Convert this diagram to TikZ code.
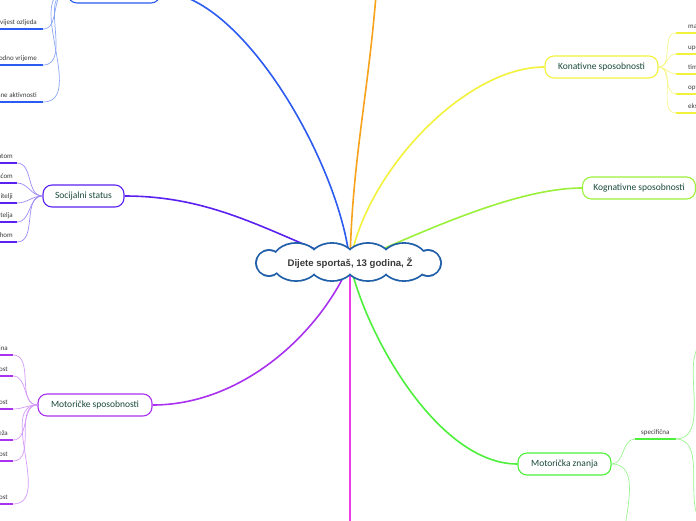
\documentclass[tikz,border=0pt]{standalone}
\usepackage{fontspec}
\setmainfont{Carlito}
\newfontfamily\rootfont{Liberation Sans}
\usepackage{xcolor}
\usepackage{tikz}
\usetikzlibrary{positioning,backgrounds}

\definecolor{blueM}{HTML}{2B5BF0}
\definecolor{blueL}{HTML}{8AA6F7}
\definecolor{indigoM}{HTML}{5B21F0}
\definecolor{indigoL}{HTML}{A08AF7}
\definecolor{purpleM}{HTML}{A931F0}
\definecolor{purpleL}{HTML}{D59AF7}
\definecolor{yellowM}{HTML}{F2F23C}
\definecolor{yellowL}{HTML}{F6F68A}
\definecolor{limeM}{HTML}{9BF03A}
\definecolor{greenM}{HTML}{4CF03A}
\definecolor{greenL}{HTML}{9AF590}
\definecolor{orangeM}{HTML}{F7A21B}
\definecolor{magentaM}{HTML}{F03CE8}
\definecolor{cloudC}{HTML}{1F5EA8}
\definecolor{topictext}{HTML}{1A4A3C}
\definecolor{leaftext}{HTML}{3A3A3A}

\tikzset{
  topic/.style={draw, rounded corners=9pt, line width=1.1pt, fill=white,
    minimum height=22pt, inner sep=0pt, text=topictext,
    font=\fontsize{9.5}{11}\selectfont},
  leaf/.style={inner xsep=5pt, inner ysep=2.5pt, text height=5pt, text depth=1.5pt,
    text=leaftext, font=\fontsize{7}{8}\selectfont},
  uline/.style={line width=2pt},
  twig/.style={line width=0.7pt},
  limb/.style={line width=1.6pt},
}

\begin{document}
\begin{tikzpicture}[x=1pt, y=-1pt]
\useasboundingbox (0,0) rectangle (696,520);
\clip (0,0) rectangle (696,520);

% cloud: outline of the union of puffs
\foreach \w/\d in {cloudC/0.9, white/-0.9}{
  \fill[\w] (269,263) circle (13+\d);
  \fill[\w] (428,263) circle (13+\d);
  \foreach \cx in {296,332,368,404}
    \fill[\w] (\cx,262) ellipse [x radius=24+\d, y radius=19+\d];
}
\node[text=leaftext, font=\rootfont\bfseries\fontsize{9.6}{11}\selectfont] (root) at (350,263)
      {Dijete sportaš, 13 godina, Ž};

\node[topic, draw=blueM, minimum width=92pt] (zdr) at (114,-8) {};
\node[topic, draw=indigoM, minimum width=81pt] (soc) at (83.5,196) {Socijalni status};
\node[topic, draw=purpleM, minimum width=114pt] (motsp) at (95,405) {Motoričke sposobnosti};
\node[topic, draw=yellowM, minimum width=113pt] (kon) at (601.5,67) {Konativne sposobnosti};
\node[topic, draw=limeM, minimum width=113pt] (kog) at (639,188) {Kognativne sposobnosti};
\node[topic, draw=greenM, minimum width=93pt] (znanja) at (564.5,464) {Motorička znanja};

\coordinate (orangeEnd) at (376,-5);
\coordinate (magEnd) at (350,525);

\begin{scope}[on background layer]
\draw[limb, blueM] (zdr.east) .. controls +(80,0) and +(-10,-100) .. (root.center);
\draw[limb, orangeM] (root.center) .. controls +(2,-100) and +(-8,100) .. (orangeEnd);
\draw[limb, yellowM] (kon.west) .. controls +(-80,0) and +(15,-90) .. (root.center);
\draw[limb, limeM] (kog.west) .. controls +(-70,0) and +(60,-25) .. (root.center);
\draw[limb, indigoM] (soc.east) .. controls +(90,0) and +(-80,-30) .. (root.center);
\draw[limb, purpleM] (motsp.east) .. controls +(90,0) and +(-30,70) .. (root.center);
\draw[limb, greenM] (znanja.west) .. controls +(-80,0) and +(15,70) .. (root.center);
\draw[limb, magentaM] (root.center) -- (magEnd);
\end{scope}

% left side leaves
\foreach \nm/\yy/\txt in {z1/29/Povijest ozljeda, z2/65/Slobodno vrijeme, z3/102/Plesne aktivnosti}{
  \node[leaf, inner xsep=6pt, anchor=south east] (\nm) at (43,\yy) {\txt};
  \draw[uline, blueM] (\nm.south west) -- (\nm.south east);
  \draw[twig, blueL] (zdr.west) to[out=180,in=0] (\nm.south east);
}
\foreach \nm/\yy/\txt in {s1/163/Odnos s bratom, s2/183/Odnos s braćom, s3/203/Razvedeni roditelji,
    s4/222/Zanimanje roditelja, s5/242/Zadovoljstvo uspjehom}{
  \node[leaf, inner xsep=4pt, anchor=south east] (\nm) at (17,\yy) {\txt};
  \draw[uline, indigoM] (\nm.south west) -- (\nm.south east);
  \draw[twig, indigoL] (soc.west) to[out=180,in=0] (\nm.south east);
}
\foreach \nm/\yy/\txt in {m1/355/Brzina, m2/376/Fleksibilnost, m3/409/Preciznost,
    m4/440/Ravnoteža, m5/461/Izdržljivost, m6/504/Eksplozivnost}{
  \node[leaf, anchor=south east] (\nm) at (13,\yy) {\txt};
  \draw[uline, purpleM] (\nm.south west) -- (\nm.south east);
  \draw[twig, purpleL] (motsp.west) to[out=180,in=0] (\nm.south east);
}

% right side leaves
\foreach \nm/\yy/\txt in {k1/33/marljivost, k2/54/upornost, k3/74/timski rad,
    k4/94/optimizam, k5/113/ekstrovertiranost}{
  \node[leaf, inner xsep=12pt, anchor=south west] (\nm) at (676,\yy) {\txt};
  \draw[uline, yellowM] (\nm.south west) -- (\nm.south east);
  \draw[twig, yellowL] (kon.east) to[out=0,in=180] (\nm.south west);
}

\node[leaf, inner xsep=6pt, anchor=south west] (spec) at (635,439) {specifična};
\draw[uline, greenM] (spec.south west) -- (spec.south east);
\draw[twig, greenL] (znanja.east) to[out=0,in=180] (spec.south west);
\coordinate (specA) at (712,340);
\coordinate (specB) at (712,525);
\coordinate (znB) at (640,580);
\draw[twig, greenL] (spec.south east) to[out=0,in=180] (specA);
\draw[twig, greenL] (spec.south east) to[out=0,in=180] (specB);
\draw[twig, greenL] (znanja.east) to[out=0,in=180] (znB);
\end{tikzpicture}
\end{document}
